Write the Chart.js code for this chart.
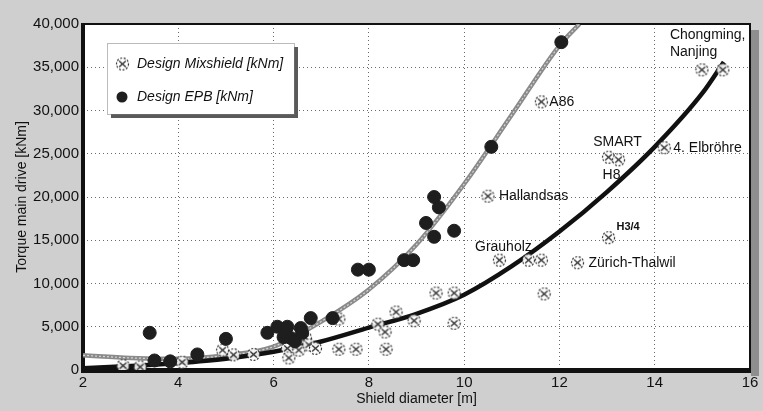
<!DOCTYPE html>
<html>
<head>
<meta charset="utf-8">
<script src="https://cdn.jsdelivr.net/npm/chart.js@4.4.1/dist/chart.umd.min.js"></script>
<style>
  html, body { margin: 0; padding: 0; background: #cfcfcf; }
  #wrap { width: 763px; height: 411px; }
</style>
</head>
<body>
<div id="wrap"><canvas id="torque_chart" width="763" height="411"></canvas></div>
<script>
// shield diameter [m] / torque [kNm]
const mixDiameter = [2.84, 3.2, 4.08, 4.93, 5.16, 5.58, 6.29, 6.32, 6.53, 6.67, 6.74, 6.88, 7.37, 7.37, 7.73,
  8.19, 8.34, 8.36, 8.57, 8.95, 9.41, 9.79, 9.79, 10.5, 10.74, 11.35, 11.62, 11.68, 11.62, 12.38,
  13.03, 13.03, 13.24, 14.2, 14.99, 15.43];
const mixTorque = [500, 350, 900, 2300, 1750, 1800, 2500, 1400, 2300, 3700, 2900, 2500, 2400, 5900, 2400,
  5300, 4400, 2400, 6700, 5700, 8900, 8900, 5400, 20100, 12700, 12700, 12700, 8800, 31000, 12400,
  15300, 24600, 24300, 25700, 34700, 34700];

const epbDiameter = [3.4, 3.5, 3.83, 4.4, 5.0, 5.87, 6.08, 6.21, 6.29, 6.36, 6.45, 6.57, 6.6, 6.78, 7.24,
  7.77, 8.0, 8.74, 8.93, 9.2, 9.37, 9.79, 9.37, 9.47, 10.57, 12.04];
const epbTorque = [4300, 1100, 1000, 1800, 3600, 4300, 5000, 3800, 5000, 3700, 3300, 4850, 4300, 6000, 6000,
  11600, 11600, 12700, 12700, 17000, 15400, 16100, 20000, 18800, 25800, 37900];

// trend curves as traced on the figure
const epbTrendDiameter = [2, 3, 4, 5, 6, 7, 8, 9, 10, 11, 12, 12.42];
const epbTrendTorque = [1700, 1400, 1300, 1700, 2700, 5600, 9300, 14500, 21500, 29500, 37500, 40000];
const mixTrendDiameter = [2, 3, 4, 5, 6, 7, 8, 9, 10, 11, 12, 13, 14, 15, 15.45];
const mixTrendTorque = [200, 450, 800, 1300, 2100, 3300, 4900, 6500, 8700, 12000, 16000, 20600, 25800, 32000, 35600];

const xTicks = [2, 4, 6, 8, 10, 12, 14, 16];
const yTicks = [0, 5000, 10000, 15000, 20000, 25000, 30000, 35000, 40000];

// project names next to points
const notes = [
  { text: 'A86', x: 11.62, y: 31000, dx: 8, dy: 0, align: 'left' },
  { text: 'Hallandsas', x: 10.5, y: 20100, dx: 11, dy: 0, align: 'left' },
  { text: 'SMART', x: 13.03, y: 24600, dx: 9, dy: -15, align: 'center' },
  { text: 'H8', x: 13.03, y: 24600, dx: 3, dy: 18, align: 'center' },
  { text: '4. Elbröhre', x: 14.2, y: 25700, dx: 9, dy: 0, align: 'left' },
  { text: 'Chongming,', x: 14.99, y: 34700, dx: -32, dy: -35, align: 'left' },
  { text: 'Nanjing', x: 14.99, y: 34700, dx: -32, dy: -18, align: 'left' },
  { text: 'H3/4', x: 13.03, y: 15300, dx: 8, dy: -11, align: 'left', small: true },
  { text: 'Grauholz', x: 10.74, y: 12700, dx: 4, dy: -13, align: 'center' },
  { text: 'Zürich-Thalwil', x: 12.38, y: 12400, dx: 11, dy: 0, align: 'left' },
];

const FONT = '"Liberation Sans", Arial, Helvetica, sans-serif';

function toPoints(xs, ys) {
  return xs.map((x, i) => ({ x: x, y: ys[i] }));
}

function mixMarker() {
  const c = document.createElement('canvas');
  c.width = 15; c.height = 15;
  const g = c.getContext('2d');
  g.fillStyle = 'rgba(255,255,255,0.9)';
  g.beginPath(); g.arc(7.5, 7.5, 6, 0, Math.PI * 2); g.fill();
  g.strokeStyle = '#333';
  g.lineWidth = 1.2;
  g.setLineDash([2, 1.6]);
  g.beginPath(); g.arc(7.5, 7.5, 6, 0, Math.PI * 2); g.stroke();
  g.setLineDash([]);
  g.lineWidth = 1.4;
  g.beginPath();
  g.moveTo(4.2, 4.5); g.lineTo(10.8, 10.5);
  g.moveTo(10.8, 4.5); g.lineTo(4.2, 10.5);
  g.stroke();
  return c;
}
const mixIcon = mixMarker();

const framePlugin = {
  id: 'frame',
  beforeDraw(chart) {
    const { ctx, chartArea: a } = chart;
    ctx.save();
    ctx.fillStyle = '#cfcfcf';
    ctx.fillRect(0, 0, chart.width, chart.height);
    // shadow to the right of the plot
    ctx.fillStyle = '#8e8e8e';
    ctx.fillRect(a.right + 1, a.top + 6, 8, a.bottom - a.top);
    ctx.fillStyle = '#ffffff';
    ctx.fillRect(a.left, a.top, a.right - a.left, a.bottom - a.top);
    ctx.restore();
  },
  beforeDatasetsDraw(chart) {
    const { ctx, chartArea: a } = chart;
    ctx.save();
    ctx.strokeStyle = '#111';
    ctx.lineWidth = 2;
    ctx.strokeRect(a.left, a.top, a.right - a.left, a.bottom - a.top);
    ctx.fillStyle = '#111';
    ctx.fillRect(a.left - 2, a.top - 1, 4, a.bottom - a.top + 3);
    ctx.fillRect(a.left - 2, a.bottom - 2, a.right - a.left + 3, 5);
    ctx.restore();
  },
  afterDatasetsDraw(chart) {
    const { ctx, scales } = chart;
    ctx.save();
    ctx.fillStyle = '#111';
    ctx.textBaseline = 'middle';
    notes.forEach(n => {
      ctx.font = n.small ? 'bold 11px ' + FONT : '14px ' + FONT;
      ctx.textAlign = n.align;
      const px = scales.x.getPixelForValue(n.x) + n.dx;
      const py = scales.y.getPixelForValue(n.y) + n.dy;
      ctx.fillText(n.text, px, py);
    });

    // legend box
    const bx = 107, by = 43, bw = 187, bh = 71;
    ctx.fillStyle = '#5a5a5a';
    ctx.fillRect(bx + 4, by + 4, bw, bh);
    ctx.fillStyle = '#ffffff';
    ctx.fillRect(bx, by, bw, bh);
    ctx.strokeStyle = '#777';
    ctx.lineWidth = 1;
    ctx.setLineDash([1, 1]);
    ctx.strokeRect(bx + 0.5, by + 0.5, bw, bh);
    ctx.setLineDash([]);
    ctx.font = 'italic 14px ' + FONT;
    ctx.textAlign = 'left';
    ctx.fillStyle = '#111';
    const items = chart.data.datasets.filter(d => d.inLegend);
    items.forEach((d, i) => {
      const iy = by + 21 + i * 33;
      if (d.pointStyle === 'circle') {
        ctx.fillStyle = d.backgroundColor;
        ctx.beginPath(); ctx.arc(bx + 15, iy, 5.5, 0, Math.PI * 2); ctx.fill();
      } else {
        ctx.drawImage(mixIcon, bx + 8, iy - 7.5);
      }
      ctx.fillStyle = '#111';
      ctx.fillText(d.label, bx + 30, iy);
    });
    ctx.restore();
  }
};

new Chart(document.getElementById('torque_chart').getContext('2d'), {
  type: 'scatter',
  data: {
    datasets: [
      {
        label: 'Design Mixshield [kNm]',
        inLegend: true,
        data: toPoints(mixDiameter, mixTorque),
        pointStyle: mixIcon,
        pointRadius: 7,
        order: 1
      },
      {
        label: 'Design EPB [kNm]',
        inLegend: true,
        data: toPoints(epbDiameter, epbTorque),
        pointStyle: 'circle',
        backgroundColor: '#1e1e1e',
        borderColor: '#1e1e1e',
        pointRadius: 6.5,
        order: 0
      },
      {
        label: 'EPB trend',
        data: toPoints(epbTrendDiameter, epbTrendTorque),
        showLine: true,
        borderColor: '#8a8a8a',
        borderWidth: 4.5,
        pointRadius: 0,
        cubicInterpolationMode: 'monotone',
        order: 3
      },
      {
        label: 'EPB trend texture',
        data: toPoints(epbTrendDiameter, epbTrendTorque),
        showLine: true,
        borderColor: '#d6d6d6',
        borderWidth: 1.2,
        borderDash: [2, 2],
        pointRadius: 0,
        cubicInterpolationMode: 'monotone',
        order: 2
      },
      {
        label: 'Mixshield trend',
        data: toPoints(mixTrendDiameter, mixTrendTorque),
        showLine: true,
        borderColor: '#111111',
        borderWidth: 4.5,
        pointRadius: 0,
        cubicInterpolationMode: 'monotone',
        order: 2
      }
    ]
  },
  options: {
    responsive: false,
    animation: false,
    layout: { padding: { top: 24, right: 13, left: 0, bottom: 0 } },
    plugins: {
      legend: { display: false },
      tooltip: { enabled: false }
    },
    scales: {
      x: {
        type: 'linear',
        min: 2,
        max: 16,
        afterBuildTicks: s => { s.ticks = xTicks.map(v => ({ value: v })); },
        afterFit: s => { s.height = 41; },
        ticks: { color: '#111', font: { family: FONT, size: 15 }, padding: 4, maxRotation: 0 },
        grid: { color: '#6a6a6a', drawTicks: false, lineWidth: 1 },
        border: { display: false, dash: [1, 3] },
        title: { display: true, text: 'Shield diameter [m]', color: '#111',
          font: { family: FONT, size: 14 }, padding: { top: 0, bottom: 3 } }
      },
      y: {
        min: 0,
        max: 40000,
        afterBuildTicks: s => { s.ticks = yTicks.map(v => ({ value: v })); },
        afterFit: s => { s.width = 83; },
        ticks: { color: '#111', font: { family: FONT, size: 15 }, padding: 4,
          callback: v => v.toLocaleString('en-US') },
        grid: { color: '#6a6a6a', drawTicks: false, lineWidth: 1 },
        border: { display: false, dash: [1, 3] },
        title: { display: true, text: 'Torque main drive [kNm]', color: '#111',
          font: { family: FONT, size: 14 }, padding: { top: 14, bottom: 0 } }
      }
    }
  },
  plugins: [framePlugin]
});
</script>
</body>
</html>
